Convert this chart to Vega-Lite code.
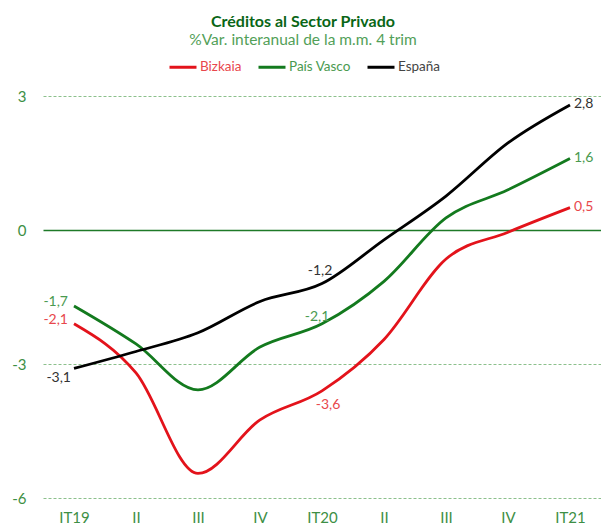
{
  "$schema": "https://vega.github.io/schema/vega-lite/v6.json",
  "width": 558,
  "height": 402,
  "autosize": {"type": "none"},
  "padding": {"left": 43, "top": 96, "right": 0, "bottom": 32},
  "title": {
    "text": "Créditos al Sector Privado",
    "subtitle": "%Var. interanual de la m.m. 4 trim",
    "anchor": "middle",
    "dx": -19,
    "offset": 4,
    "font": "Lato",
    "fontSize": 16,
    "fontWeight": "bold",
    "color": "#0a6616",
    "subtitleFont": "Lato",
    "subtitleFontSize": 15.5,
    "subtitleFontWeight": "normal",
    "subtitleColor": "#52a058",
    "subtitlePadding": 3
  },
  "config": {
    "locale": {"number": {"decimal": ",", "thousands": ".", "grouping": [3], "currency": ["", "€"], "minus": "-"}},
    "view": {"stroke": null},
    "font": "Lato"
  },
  "data": {
    "values": [
      {"t": "IT19", "s": "Bizkaia", "v": -2.1},
      {"t": "II-19", "s": "Bizkaia", "v": -3.2},
      {"t": "III-19", "s": "Bizkaia", "v": -5.45},
      {"t": "IV-19", "s": "Bizkaia", "v": -4.25},
      {"t": "IT20", "s": "Bizkaia", "v": -3.6},
      {"t": "II-20", "s": "Bizkaia", "v": -2.45},
      {"t": "III-20", "s": "Bizkaia", "v": -0.65},
      {"t": "IV-20", "s": "Bizkaia", "v": -0.05},
      {"t": "IT21", "s": "Bizkaia", "v": 0.5},
      {"t": "IT19", "s": "País Vasco", "v": -1.7},
      {"t": "II-19", "s": "País Vasco", "v": -2.55},
      {"t": "III-19", "s": "País Vasco", "v": -3.58},
      {"t": "IV-19", "s": "País Vasco", "v": -2.62},
      {"t": "IT20", "s": "País Vasco", "v": -2.1},
      {"t": "II-20", "s": "País Vasco", "v": -1.15},
      {"t": "III-20", "s": "País Vasco", "v": 0.27},
      {"t": "IV-20", "s": "País Vasco", "v": 0.9},
      {"t": "IT21", "s": "País Vasco", "v": 1.6},
      {"t": "IT19", "s": "España", "v": -3.1},
      {"t": "II-19", "s": "España", "v": -2.72},
      {"t": "III-19", "s": "España", "v": -2.3},
      {"t": "IV-19", "s": "España", "v": -1.6},
      {"t": "IT20", "s": "España", "v": -1.2},
      {"t": "II-20", "s": "España", "v": -0.22},
      {"t": "III-20", "s": "España", "v": 0.76},
      {"t": "IV-20", "s": "España", "v": 1.95},
      {"t": "IT21", "s": "España", "v": 2.8}
    ]
  },
  "encoding": {
    "x": {
      "field": "t",
      "type": "ordinal",
      "sort": ["IT19", "II-19", "III-19", "IV-19", "IT20", "II-20", "III-20", "IV-20", "IT21"],
      "scale": {"type": "point", "padding": 0.5},
      "axis": {
        "title": null,
        "labelExpr": "split(datum.label, '-')[0]",
        "labelAngle": 0,
        "domain": false,
        "ticks": false,
        "grid": false,
        "labelColor": "#3d8f45",
        "labelFont": "Lato",
        "labelFontSize": 15,
        "labelPadding": 12
      }
    },
    "y": {
      "field": "v",
      "type": "quantitative",
      "scale": {"domain": [-6, 3], "nice": false},
      "axis": {
        "title": null,
        "values": [3, 0, -3, -6],
        "domain": false,
        "ticks": false,
        "labelColor": "#3d8f45",
        "labelFont": "Lato",
        "labelFontSize": 15,
        "labelPadding": 17,
        "grid": true,
        "gridColor": {"condition": {"test": "datum.value === 0", "value": "#1e7a28"}, "value": "#8cc08c"},
        "gridDash": {"condition": {"test": "datum.value === 0", "value": []}, "value": [3, 2]},
        "gridWidth": {"condition": {"test": "datum.value === 0", "value": 1.5}, "value": 1}
      }
    },
    "color": {
      "field": "s",
      "type": "nominal",
      "scale": {"domain": ["Bizkaia", "País Vasco", "España"], "range": ["#e3131b", "#137a1e", "#000000"]},
      "legend": {
        "title": null,
        "orient": "none",
        "legendX": 125,
        "legendY": -44,
        "direction": "horizontal",
        "symbolType": "stroke",
        "symbolSize": 729,
        "symbolStrokeWidth": 3,
        "labelFont": "Lato",
        "labelFontSize": 13.5,
        "labelOffset": 2,
        "columnPadding": 10,
        "encode": {"labels": {"update": {"fill": {"signal": "datum.value === 'Bizkaia' ? '#e8474c' : datum.value === 'País Vasco' ? '#4a9a50' : '#444444'"}, "fontWeight": {"value": "normal"}}}}
      }
    }
  },
  "layer": [
    {"mark": {"type": "line", "interpolate": "monotone", "strokeWidth": 2.8}},
    {
      "transform": [{"filter": "datum.t === 'IT19' && datum.s !== 'España'"}],
      "mark": {"type": "text", "align": "right", "baseline": "middle", "dx": -6, "dy": -4, "fontSize": 14, "font": "Lato"},
      "encoding": {"text": {"field": "v", "type": "quantitative", "format": ".1f"}, "color": {"condition": {"test": "datum.s === 'Bizkaia'", "value": "#e8474c"}, "value": "#4a9a50"}}
    },
    {
      "transform": [{"filter": "datum.t === 'IT19' && datum.s === 'España'"}],
      "mark": {"type": "text", "align": "right", "baseline": "middle", "dx": -3, "dy": 10, "fontSize": 14, "font": "Lato"},
      "encoding": {"text": {"field": "v", "type": "quantitative", "format": ".1f"}, "color": {"value": "#333333"}}
    },
    {
      "transform": [{"filter": "datum.t === 'IT21'"}],
      "mark": {"type": "text", "align": "left", "baseline": "middle", "dx": 4, "dy": -1, "fontSize": 14, "font": "Lato"},
      "encoding": {"text": {"field": "v", "type": "quantitative", "format": ".1f"}, "color": {"condition": [{"test": "datum.s === 'Bizkaia'", "value": "#e8474c"}, {"test": "datum.s === 'País Vasco'", "value": "#4a9a50"}], "value": "#333333"}}
    },
    {
      "transform": [{"filter": "datum.t === 'IT20' && datum.s === 'España'"}],
      "mark": {"type": "text", "align": "center", "baseline": "middle", "dx": -2, "dy": -13, "fontSize": 14, "font": "Lato"},
      "encoding": {"text": {"field": "v", "type": "quantitative", "format": ".1f"}, "color": {"value": "#333333"}}
    },
    {
      "transform": [{"filter": "datum.t === 'IT20' && datum.s === 'País Vasco'"}],
      "mark": {"type": "text", "align": "center", "baseline": "middle", "dx": -5, "dy": -7, "fontSize": 14, "font": "Lato"},
      "encoding": {"text": {"field": "v", "type": "quantitative", "format": ".1f"}, "color": {"value": "#4a9a50"}}
    },
    {
      "transform": [{"filter": "datum.t === 'IT20' && datum.s === 'Bizkaia'"}],
      "mark": {"type": "text", "align": "center", "baseline": "middle", "dx": 6, "dy": 14, "fontSize": 14, "font": "Lato"},
      "encoding": {"text": {"field": "v", "type": "quantitative", "format": ".1f"}, "color": {"value": "#e8474c"}}
    }
  ]
}
